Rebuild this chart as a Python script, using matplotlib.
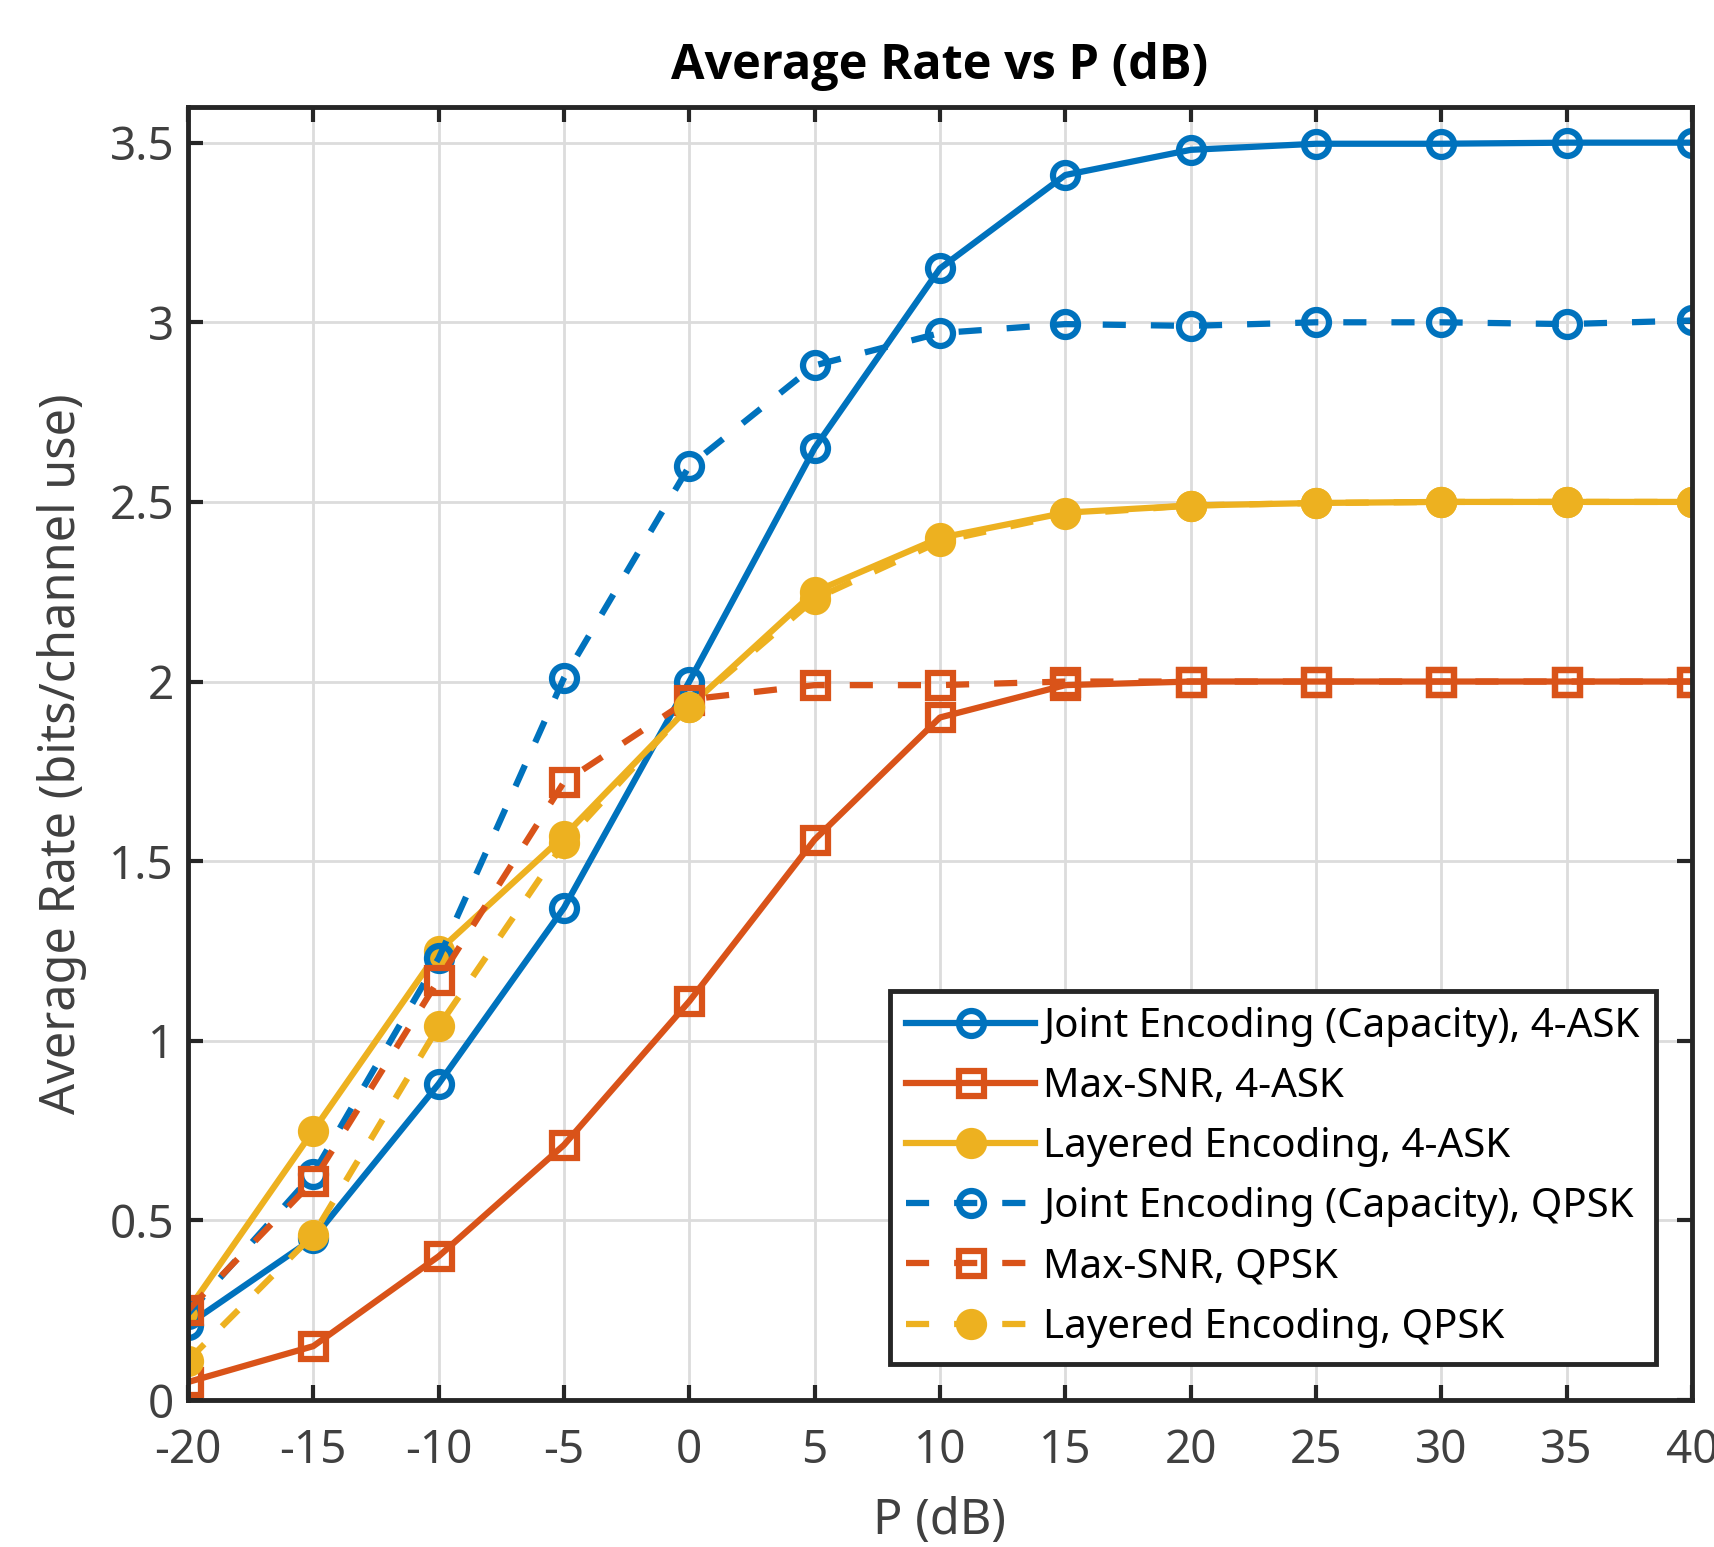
import numpy as np
import matplotlib
matplotlib.use("Agg")
import matplotlib.pyplot as plt

plt.rcParams['font.family'] = ['Noto Sans', 'DejaVu Sans']
plt.rcParams['axes.unicode_minus'] = False

# P in dB
p_db = [-20, -15, -10, -5, 0, 5, 10, 15, 20, 25, 30, 35, 40]

joint_4ask = [0.21, 0.45, 0.88, 1.37, 2.00, 2.65, 3.15, 3.41, 3.48, 3.497, 3.497, 3.50, 3.50]
maxsnr_4ask = [0.05, 0.15, 0.40, 0.71, 1.11, 1.56, 1.90, 1.99, 2.00, 2.00, 2.00, 2.00, 2.00]
layered_4ask = [0.25, 0.75, 1.25, 1.57, 1.93, 2.25, 2.40, 2.47, 2.49, 2.497, 2.50, 2.50, 2.50]
joint_qpsk = [0.24, 0.63, 1.23, 2.01, 2.60, 2.88, 2.97, 2.995, 2.99, 3.00, 3.00, 2.995, 3.005]
maxsnr_qpsk = [0.25, 0.61, 1.17, 1.72, 1.95, 1.99, 1.99, 2.00, 2.00, 2.00, 2.00, 2.00, 2.00]
layered_qpsk = [0.11, 0.46, 1.04, 1.55, 1.93, 2.23, 2.39, 2.465, 2.49, 2.497, 2.50, 2.50, 2.50]

blue = '#0072BD'
orange = '#D95319'
yellow = '#EDB120'
dark = '#262626'

fig = plt.figure(figsize=(17.15, 15.47), dpi=100)
ax = fig.add_axes([0.1096, 0.095, 0.877, 0.836])

lw = 4.5
ms = 18
mew = 4.5
dash = (3.7, 4.0)

ax.plot(p_db, joint_4ask, '-o', color=blue, lw=lw, ms=ms, mfc='none', mew=mew,
        label='Joint Encoding (Capacity), 4-ASK')
ax.plot(p_db, maxsnr_4ask, '-s', color=orange, lw=lw, ms=ms, mfc='none', mew=mew,
        label='Max-SNR, 4-ASK')
ax.plot(p_db, layered_4ask, '-o', color=yellow, lw=lw, ms=ms, mfc=yellow, mew=mew,
        label='Layered Encoding, 4-ASK')
ax.plot(p_db, joint_qpsk, '--o', color=blue, lw=lw, ms=ms, mfc='none', mew=mew,
        dashes=dash, label='Joint Encoding (Capacity), QPSK')
ax.plot(p_db, maxsnr_qpsk, '--s', color=orange, lw=lw, ms=ms, mfc='none', mew=mew,
        dashes=dash, label='Max-SNR, QPSK')
ax.plot(p_db, layered_qpsk, '--o', color=yellow, lw=lw, ms=ms, mfc=yellow, mew=mew,
        dashes=dash, label='Layered Encoding, QPSK')

ax.set_xlim(-20, 40)
ax.set_ylim(0, 3.6)
ax.set_xticks(p_db)
ax.set_yticks([0, 0.5, 1, 1.5, 2, 2.5, 3, 3.5])
ax.set_yticklabels(['0', '0.5', '1', '1.5', '2', '2.5', '3', '3.5'])

ax.grid(True, color='#dcdcdc', linewidth=2)
ax.tick_params(direction='in', length=11, width=3, labelsize=33,
               top=True, right=True, colors=dark, labelcolor='#404040')
ax.tick_params(axis='x', pad=20)
ax.tick_params(axis='y', pad=10)
for s in ax.spines.values():
    s.set_linewidth(3.5)
    s.set_color(dark)

ax.set_xlabel('P (dB)', fontsize=35, color='#404040', labelpad=16)
ax.set_ylabel('Average Rate (bits/channel use)', fontsize=35, color='#404040', labelpad=16)
ax.set_title('Average Rate vs P (dB)', fontsize=35, fontweight='bold',
             family=['Open Sans', 'DejaVu Sans'], color='black', pad=20)

leg = ax.legend(loc='lower right', fontsize=29, handlelength=3.2, handletextpad=0.2,
                borderpad=0.4, labelspacing=0.5, fancybox=False, framealpha=1,
                edgecolor=dark, borderaxespad=0, bbox_to_anchor=(0.976, 0.028))
leg.get_frame().set_linewidth(3.5)

fig.savefig('out.png', dpi=100)
